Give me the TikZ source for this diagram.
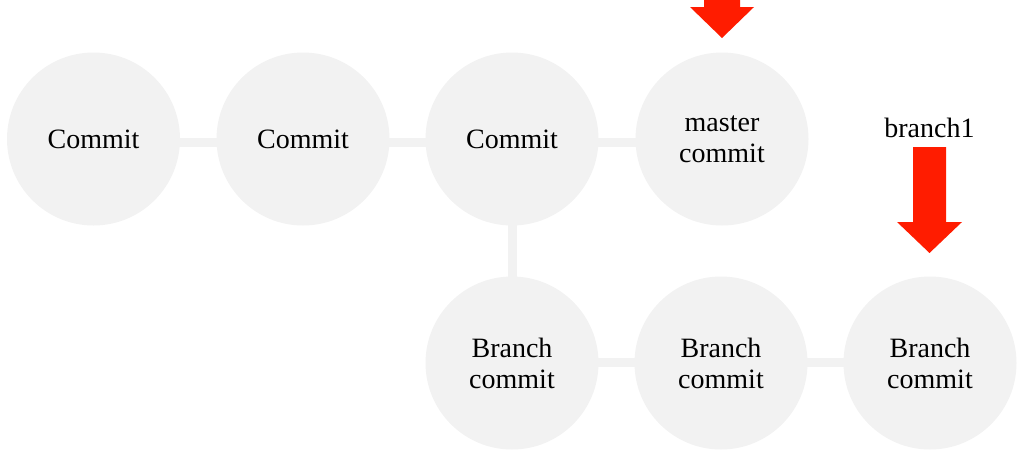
\documentclass[tikz,border=0pt]{standalone}
\usepackage{fontspec}
\setmainfont{Liberation Serif}
\usetikzlibrary{backgrounds}
\definecolor{cgray}{HTML}{F2F2F2}
\definecolor{cred}{HTML}{FF1C00}
\begin{document}
\begin{tikzpicture}[x=1pt,y=-1pt,
  commit/.style={circle, fill=cgray, minimum size=173pt, inner sep=0pt, align=center,
                 font=\fontsize{28}{31}\selectfont},
  link/.style={draw=cgray, line width=9pt},
  redarrow/.style={fill=cred}]
\useasboundingbox (0,0) rectangle (1032,456);
% top row
\node[commit] (c1) at (93.5,139) {Commit};
\node[commit] (c2) at (303,139) {Commit};
\node[commit] (c3) at (512,139) {Commit};
\node[commit] (m)  at (722,139) {master\\commit};
% bottom row
\node[commit] (b1) at (512,363) {Branch\\commit};
\node[commit] (b2) at (721,363) {Branch\\commit};
\node[commit] (b3) at (930,363) {Branch\\commit};
% label
\node[font=\fontsize{28}{31}\selectfont, anchor=base, inner sep=0pt] (lbl) at (929.5,137) {branch1};
% connectors
\begin{scope}[on background layer]
\draw[link] ([yshift=-3pt]c1.center) -- ([yshift=-3pt]c2.center);
\draw[link] ([yshift=-3pt]c2.center) -- ([yshift=-3pt]c3.center);
\draw[link] ([yshift=-3pt]c3.center) -- ([yshift=-3pt]m.center);
\draw[link] (c3.center) -- (b1.center);
\draw[link] ([yshift=1pt]b1.center) -- ([yshift=1pt]b2.center);
\draw[link] ([yshift=1pt]b2.center) -- ([yshift=1pt]b3.center);
\end{scope}
% arrows
\fill[redarrow] (704,0) -- (740,0) -- (740,7) -- (754,7) -- (722,38) -- (690,7) -- (704,7) -- cycle;
\fill[redarrow] (913,147) -- (946,147) -- (946,222) -- (962,222) -- (929.5,253) -- (897,222) -- (913,222) -- cycle;
\end{tikzpicture}
\end{document}
